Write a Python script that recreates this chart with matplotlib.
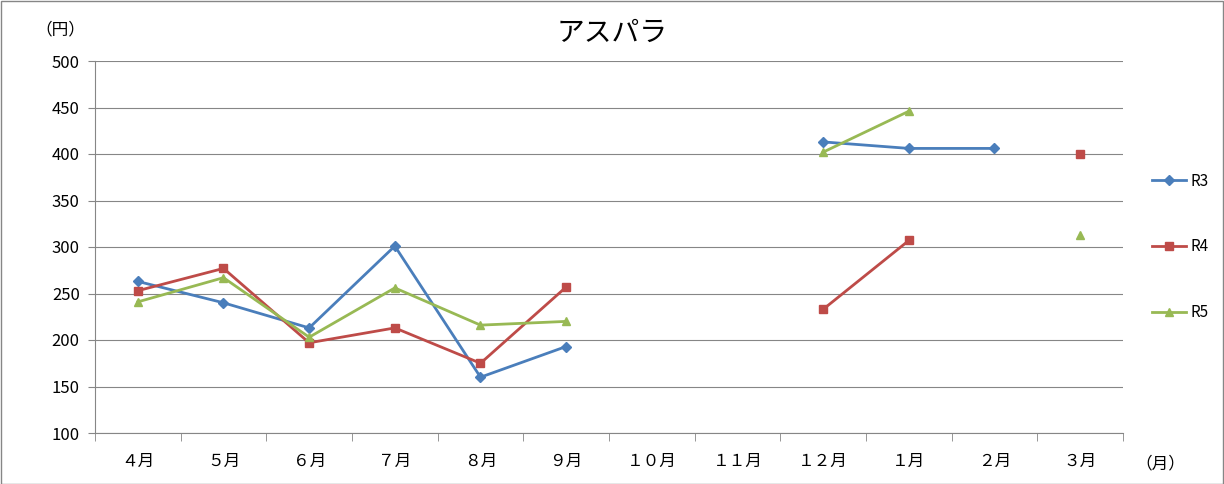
import matplotlib
matplotlib.use("Agg")
import matplotlib.pyplot as plt
import numpy as np

plt.rcParams["font.family"] = ["Noto Sans CJK JP", "DejaVu Sans"]

months = ["４月", "５月", "６月", "７月", "８月", "９月", "１０月", "１１月", "１２月", "１月", "２月", "３月"]
nan = np.nan
r3 = [263, 240, 213, 301, 160, 193, nan, nan, 413, 406, 406, nan]
r4 = [253, 277, 197, 213, 175, 257, nan, nan, 233, 307, nan, 400]
r5 = [241, 267, 203, 256, 216, 220, nan, nan, 402, 446, nan, 313]
yticks = [100, 150, 200, 250, 300, 350, 400, 450, 500]

fig = plt.figure(figsize=(12.24, 4.84), dpi=100)
ax = fig.add_axes([95/1224, 1-433/484, (1123-95)/1224, (433-61)/484])
x = np.arange(len(months))
ax.plot(x, r3, color="#4A7EBB", marker="D", ms=5.5, lw=2, label="R3")
ax.plot(x, r4, color="#BE4B48", marker="s", ms=5.5, lw=2, label="R4")
ax.plot(x, r5, color="#98B954", marker="^", ms=6, lw=2, label="R5")
ax.set_xlim(-0.5, 11.5)
ax.set_ylim(100, 500)
ax.set_yticks(yticks)
ax.set_yticklabels([str(v) for v in yticks], fontsize=12)
ax.set_xticks(x)
ax.set_xticklabels(months, fontsize=12)
ax.set_xticks(np.arange(-0.5, 12, 1), minor=True)
ax.tick_params(axis="x", which="major", length=0, pad=14)
ax.tick_params(axis="x", which="minor", length=6, color="#868686")
ax.tick_params(axis="y", length=5, color="#868686", pad=6)
ax.grid(axis="y", color="#868686", lw=0.8)
ax.set_axisbelow(True)
for s in ["top", "right"]:
    ax.spines[s].set_visible(False)
for s in ["left", "bottom"]:
    ax.spines[s].set_color("#868686")
fig.text(0.5, 1-33/484, "アスパラ", ha="center", va="center", fontsize=20)
fig.text(60/1224, 1-30/484, "（円）", ha="center", va="center", fontsize=12)
fig.text(1160/1224, 1-464/484, "（月）", ha="center", va="center", fontsize=12)
ax.legend(loc="center left", bbox_to_anchor=(1.015, 0.5), frameon=False,
          fontsize=11, labelspacing=3.2, handlelength=2.2, handletextpad=0.3)
fig.patches.append(plt.Rectangle((0.001, 0.001), 0.998, 0.997, transform=fig.transFigure,
                                 fill=False, ec="#868686", lw=1))
fig.savefig("out.png", dpi=100)
